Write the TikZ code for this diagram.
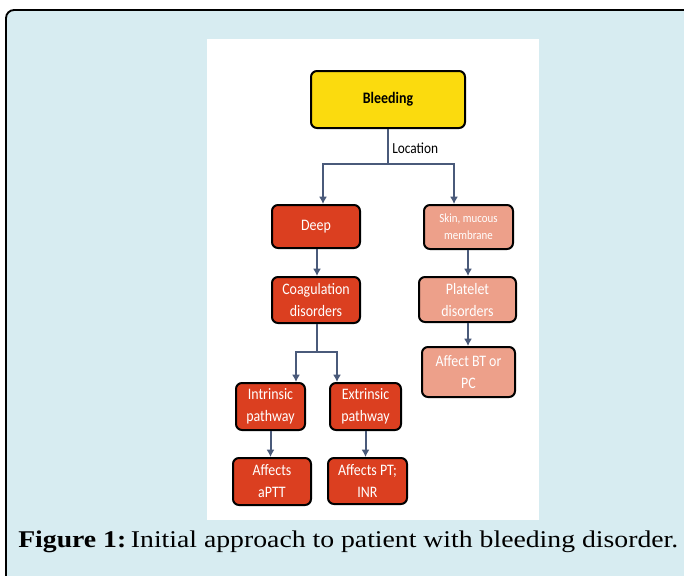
\documentclass[tikz,border=0pt]{standalone}
\usepackage{fontspec}
\setmainfont{Carlito}
\newfontfamily\boxfont[FakeStretch=0.87]{Carlito}
\newfontfamily\capfont{Liberation Serif}
\usetikzlibrary{arrows.meta}
\definecolor{bgblue}{HTML}{D7ECF1}
\definecolor{yel}{HTML}{FBDB0E}
\definecolor{dred}{HTML}{DB3F20}
\definecolor{salmon}{HTML}{EDA08A}
\definecolor{slate}{HTML}{4A5A7A}
\begin{document}
\begin{tikzpicture}[x=0.75pt,y=-0.75pt,
  box/.style={draw=black, line width=1.5pt, rounded corners=4.5pt, align=center,
    inner sep=0pt, font=\boxfont\fontsize{12}{16.5}\selectfont, text=white},
  redbox/.style={box, fill=dred},
  lightbox/.style={box, fill=salmon},
  link/.style={draw=slate, line width=1.5pt},
  arrow/.style={link, -{Latex[length=5.5pt,width=6pt]}}]
\useasboundingbox (0,0) rectangle (684,575);
\clip (0,0) rectangle (684,575);
\fill[white] (0,0) rectangle (684,575);
\draw[line width=1.4pt, fill=bgblue, rounded corners=6pt] (6,10) rectangle (720,620);
\fill[white] (207,39) rectangle (539,520);

\node[box, fill=yel, text=black, font=\boxfont\bfseries\fontsize{12}{14}\selectfont,
  minimum width=115.5pt, minimum height=42.75pt] (bleed) at (388,99.5) {Bleeding};
\node[redbox, minimum width=66pt, minimum height=32.25pt] (deep) at (316,226.5) {Deep};
\node[lightbox, font=\boxfont\fontsize{9.4}{13}\selectfont, minimum width=66.75pt, minimum height=33pt] (skin) at (468.5,227) {Skin, mucous\\membrane};
\node[redbox, minimum width=66pt, minimum height=34.5pt] (coag) at (316,300) {Coagulation\\disorders};
\node[lightbox, minimum width=72.75pt, minimum height=33.75pt] (plat) at (467.5,299.5) {Platelet\\disorders};
\node[lightbox, minimum width=69.75pt, minimum height=37.5pt] (bt) at (468.5,372) {Affect BT or\\PC};
\node[redbox, minimum width=51.75pt, minimum height=35.25pt] (intr) at (270.5,406.5) {Intrinsic\\pathway};
\node[redbox, minimum width=53.25pt, minimum height=35.25pt] (extr) at (365.5,406.5) {Extrinsic\\pathway};
\node[redbox, minimum width=58.5pt, minimum height=35.25pt] (aptt) at (272,481.5) {Affects\\aPTT};
\node[redbox, minimum width=59.25pt, minimum height=34.5pt] (ptinr) at (367.5,481) {Affects PT;\\INR};

\coordinate (jt) at (388,164);
\coordinate (xl) at (323,0);
\coordinate (xr) at (454,0);
\draw[link] (bleed.south) -- (jt);
\draw[arrow] (jt) -| (deep.north -| xl);
\draw[arrow] (jt) -| (skin.north -| xr);
\node[anchor=west, font=\boxfont\fontsize{11.5}{12}\selectfont, inner sep=0pt] (loc) at (392,148) {Location};

\draw[arrow] (deep.south -| 317,0) -- (coag.north -| 317,0);
\draw[arrow] (skin.south -| 468,0) -- (plat.north -| 468,0);
\draw[arrow] (plat.south -| 468,0) -- (bt.north -| 468,0);

\coordinate (jb) at (317,352);
\coordinate (xil) at (296,0);
\coordinate (xer) at (337,0);
\draw[link] (coag.south -| jb) -- (jb);
\draw[arrow] (jb) -| (intr.north -| xil);
\draw[arrow] (jb) -| (extr.north -| xer);
\draw[arrow] (intr.south) -- (aptt.north -| intr.south);
\draw[arrow] (extr.south) -- (ptinr.north -| extr.south);

\node[anchor=base west, inner sep=0pt, font=\capfont\fontsize{18}{20}\selectfont] (cap) at (18,547)
  {\scalebox{1.155}[1]{\textbf{Figure 1:}\,Initial approach to patient with bleeding disorder.}};
\end{tikzpicture}
\end{document}
